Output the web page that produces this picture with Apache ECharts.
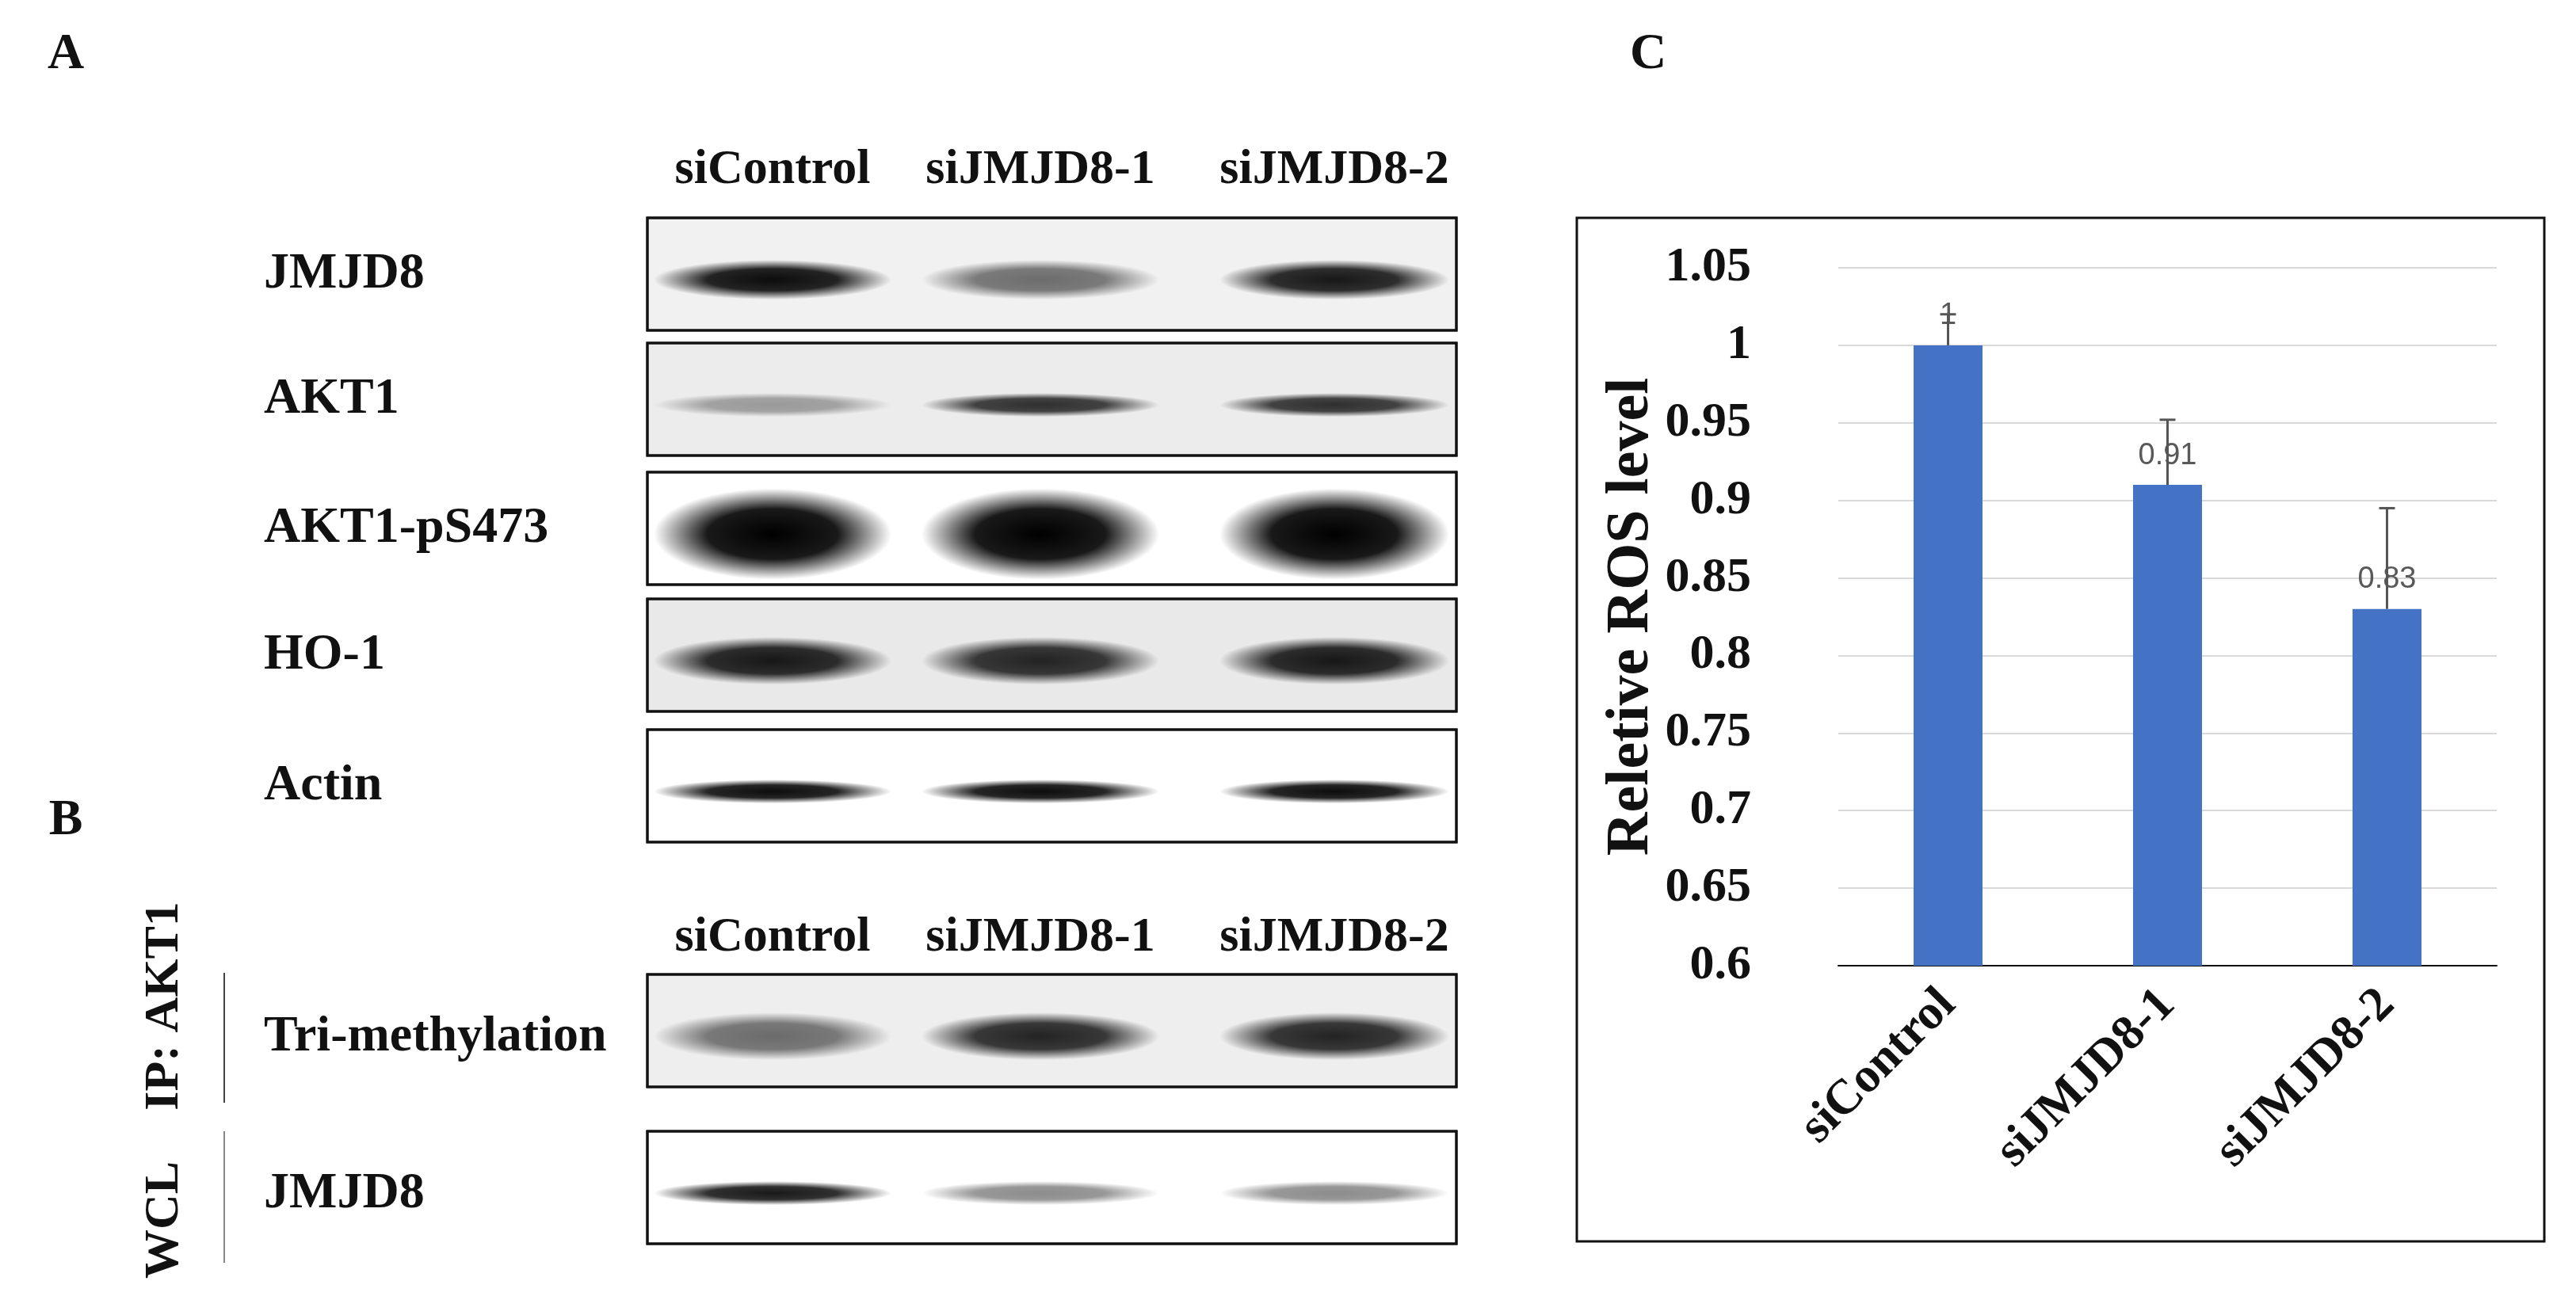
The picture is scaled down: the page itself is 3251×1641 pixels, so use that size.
<!DOCTYPE html>
<html><head><meta charset="utf-8">
<script src="https://cdn.jsdelivr.net/npm/echarts@6/dist/echarts.min.js"></script>
<style>html,body{margin:0;padding:0;background:#fff}#c{width:3251px;height:1641px}</style>
</head><body><div id="c"></div>
<script>
// ---- data ----
const categories = ['siControl', 'siJMJD8-1', 'siJMJD8-2'];
const rosValues = [1, 0.91, 0.83];
const rosErrors = [0.02, 0.042, 0.065];
const yTicks = { min: 0.6, max: 1.05, step: 0.05 };
const blotRowsA = ['JMJD8', 'AKT1', 'AKT1-pS473', 'HO-1', 'Actin'];
const blotIntensityA = [[0.95, 0.55, 0.9], [0.35, 0.8, 0.8], [1, 1, 1], [0.9, 0.85, 0.9], [0.95, 0.95, 0.95]];
const blotRowsB = ['Tri-methylation', 'JMJD8'];
const blotIntensityB = [[0.55, 0.85, 0.85], [0.9, 0.45, 0.45]];
const groupLabelsB = ['IP: AKT1', 'WCL'];

// ---- layout/styles ----
const serif = 'Liberation Serif';
const boxX = 817, boxW = 1021;
const laneX = [975, 1313, 1684], laneW = [300, 300, 290];
const rowYA = [275, 433, 596, 756, 921], rowYB = [1230, 1428], boxH = 142;
const bandH = [50, 30, 115, 60, 30], bandHB = [60, 30];
const bgA = ['#f1f1f1', '#ececec', '#ffffff', '#e9e9e9', '#ffffff'], bgB = ['#eeeeee', '#ffffff'];
const g = [];
function txt(x, y, s, size, opts) {
  g.push(Object.assign({ type: 'text', x: x, y: y, style: { text: s, font: 'bold ' + size + 'px "' + serif + '"', fill: '#111', align: 'center', verticalAlign: 'middle' } }, opts || {}));
}
function band(cx, cy, w, h, a) {
  g.push({ type: 'circle', x: cx, y: cy, scaleX: w / h, shape: { cx: 0, cy: 0, r: h / 2 }, style: {
    fill: { type: 'radial', x: 0.5, y: 0.5, r: 0.5, colorStops: [
      { offset: 0, color: 'rgba(0,0,0,' + a + ')' }, { offset: 0.55, color: 'rgba(0,0,0,' + (a * 0.9) + ')' }, { offset: 1, color: 'rgba(0,0,0,0)' }] } } });
}
function blot(y, bg, ints, bh) {
  g.push({ type: 'rect', shape: { x: boxX, y: y, width: boxW, height: boxH }, style: { fill: bg, stroke: '#111', lineWidth: 3 } });
  ints.forEach((a, i) => band(laneX[i], y + boxH * 0.55, laneW[i], bh, a));
  g.push({ type: 'rect', shape: { x: boxX, y: y, width: boxW, height: boxH }, style: { fill: 'none', stroke: '#111', lineWidth: 3 } });
}
blotRowsA.forEach((r, i) => { blot(rowYA[i], bgA[i], blotIntensityA[i], bandH[i]); g.push({ type: 'text', x: 333, y: rowYA[i] + boxH / 2, style: { text: r, font: 'bold 64px "' + serif + '"', fill: '#111', verticalAlign: 'middle' } }); });
blotRowsB.forEach((r, i) => { blot(rowYB[i], bgB[i], blotIntensityB[i], bandHB[i]); g.push({ type: 'text', x: 333, y: rowYB[i] + boxH / 2 + 8, style: { text: r, font: 'bold 64px "' + serif + '"', fill: '#111', verticalAlign: 'middle' } }); });
categories.forEach((c, i) => { txt(laneX[i], 215, c, 62); txt(laneX[i], 1184, c, 62); });
txt(83, 69, 'A', 64); txt(83, 1036, 'B', 64); txt(2080, 69, 'C', 64);
txt(208, 1270, groupLabelsB[0], 62, { rotation: Math.PI / 2 });
txt(208, 1540, groupLabelsB[1], 62, { rotation: Math.PI / 2 });
g.push({ type: 'line', shape: { x1: 283, y1: 1228, x2: 283, y2: 1392 }, style: { stroke: '#444', lineWidth: 2 } });
g.push({ type: 'line', shape: { x1: 283, y1: 1428, x2: 283, y2: 1594 }, style: { stroke: '#888', lineWidth: 2 } });
g.push({ type: 'rect', shape: { x: 1990, y: 275, width: 1221, height: 1292 }, style: { fill: 'none', stroke: '#111', lineWidth: 3 } });

const chart = echarts.init(document.getElementById('c'));
chart.setOption({
  animation: false,
  graphic: g,
  grid: { left: 2320, right: 100, top: 338, bottom: 422 },
  xAxis: { type: 'category', data: categories, axisTick: { show: false }, axisLine: { lineStyle: { color: '#111', width: 2 } },
    axisLabel: { rotate: 45, interval: 0, margin: 40, color: '#111', fontFamily: serif, fontWeight: 'bold', fontSize: 62 } },
  yAxis: { type: 'value', min: yTicks.min, max: yTicks.max, interval: yTicks.step,
    name: 'Reletive ROS level', nameLocation: 'middle', nameGap: 200, nameTextStyle: { color: '#111', fontFamily: serif, fontWeight: 'bold', fontSize: 76 },
    axisLine: { show: false }, axisTick: { show: false }, splitLine: { lineStyle: { color: '#d9d9d9', width: 2 } },
    axisLabel: { margin: 110, color: '#111', fontFamily: serif, fontWeight: 'bold', fontSize: 62, formatter: v => String(+v.toFixed(2)) } },
  series: [
    { type: 'bar', data: rosValues, barWidth: 87, itemStyle: { color: '#4472c4' },
      label: { show: true, position: 'top', distance: 18, color: '#595959', fontFamily: 'Liberation Sans', fontSize: 38 } },
    { type: 'custom', data: rosValues.map((v, i) => [i, v, v + rosErrors[i]]), z: 10,
      renderItem: (p, api) => {
        const a = api.coord([api.value(0), api.value(1)]), b = api.coord([api.value(0), api.value(2)]);
        return { type: 'group', children: [
          { type: 'line', shape: { x1: a[0], y1: a[1], x2: b[0], y2: b[1] }, style: { stroke: '#555', lineWidth: 3 } },
          { type: 'line', shape: { x1: b[0] - 10, y1: b[1], x2: b[0] + 10, y2: b[1] }, style: { stroke: '#555', lineWidth: 3 } }] };
      } }
  ]
});
</script></body></html>
